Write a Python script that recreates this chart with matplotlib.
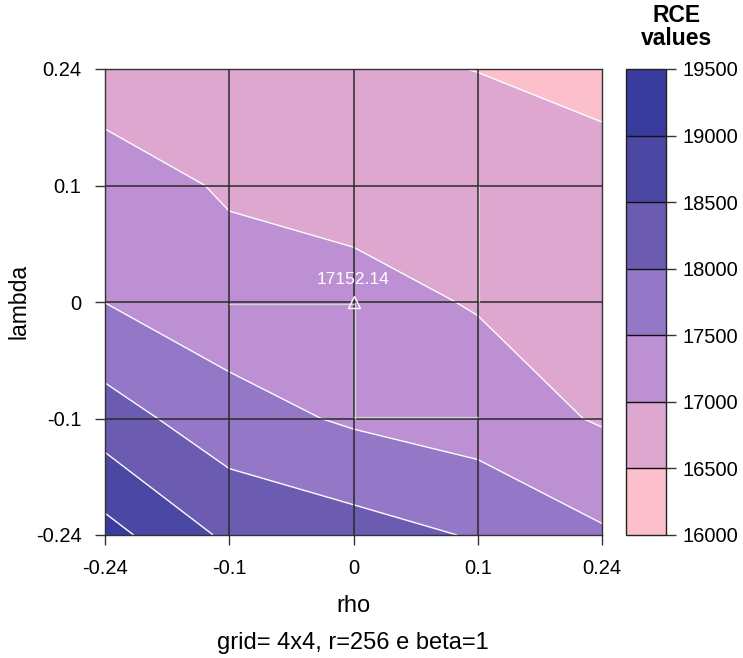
import numpy as np
import matplotlib
matplotlib.use("Agg")
import matplotlib.pyplot as plt
import matplotlib.transforms as mtransforms

plt.rcParams['font.family'] = ['Liberation Sans', 'DejaVu Sans']

# grid of parameters
rho_labels = ['-0.24', '-0.1', '0', '0.1', '0.24']
lambda_labels = ['-0.24', '-0.1', '0', '0.1', '0.24']

# RCE values, rows = lambda (bottom to top), columns = rho (left to right)
rce_lambda_m024 = [19180, 18399, 18200, 17960, 17560]
rce_lambda_m010 = [18222, 17699, 17430, 17250, 16955]
rce_lambda_000 = [17495, 17202, 17152.14, 16967, 16880]
rce_lambda_p010 = [17236, 16943, 16829, 16833, 16750]
rce_lambda_p024 = [16750, 16720, 16601, 16490, 16291]

levels = [16000, 16500, 17000, 17500, 18000, 18500, 19000, 19500]
band_colors = ['#FBC0CB', '#DDA7D0', '#BD8FD3', '#9477C6',
               '#6B5CB2', '#4B48A4', '#3A3B9F']

# best point found
best_rho_idx, best_lambda_idx = 2, 2
best_value = 17152.14

# search path segments (rho index, lambda index)
path_a = [(1, 2), (2, 2), (2, 1), (3, 1)]
path_b = [(3, 3), (3, 2)]

Z = np.array([rce_lambda_m024, rce_lambda_m010, rce_lambda_000,
              rce_lambda_p010, rce_lambda_p024])
xi = np.arange(len(rho_labels))
yi = np.arange(len(lambda_labels))
X, Y = np.meshgrid(xi, yi)

fig = plt.figure(figsize=(7.43, 6.58), dpi=100)
ax = fig.add_axes([105 / 743, 1 - 535 / 658, 497 / 743, 466 / 658])
cax = fig.add_axes([626 / 743, 1 - 535 / 658, 40 / 743, 466 / 658])

cf = ax.contourf(X, Y, Z, levels=levels, colors=band_colors)
ax.contour(X, Y, Z, levels=levels, colors='white', linewidths=1.0)

# reference grid
for v in xi[1:-1]:
    ax.axvline(v, color='#2a2a2a', lw=1.1, zorder=3)
for h in yi[1:-1]:
    ax.axhline(h, color='#2a2a2a', lw=1.1, zorder=3)

# search path, drawn just beside the grid lines
def offset(dx, dy):
    return ax.transData + mtransforms.ScaledTranslation(dx / 72, dy / 72, fig.dpi_scale_trans)

segs = list(zip(path_a[:-1], path_a[1:])) + list(zip(path_b[:-1], path_b[1:]))
for (p0, p1) in segs:
    if p0[1] == p1[1]:
        dy = -1.1 if p0[1] == 2 else 1.1
        tr = offset(0, dy)
    else:
        tr = offset(0.9, 0)
    ax.plot([p0[0], p1[0]], [p0[1], p1[1]], color='#d4d4d4', lw=0.9,
            transform=tr, zorder=4, solid_capstyle='butt')

ax.plot(best_rho_idx, best_lambda_idx, marker='^', ms=8, mfc='none',
        mec='white', mew=1.0, zorder=5, clip_on=False)
ax.annotate(f'{best_value:.2f}', (best_rho_idx, best_lambda_idx),
            xytext=(0, 16), textcoords='offset points', ha='center',
            va='center', color='white', fontsize=12.5, zorder=6)

ax.set_xlim(xi[0], xi[-1])
ax.set_ylim(yi[0], yi[-1])
ax.set_xticks(xi)
ax.set_xticklabels(rho_labels, fontsize=14.5)
ax.set_yticks(yi)
ax.set_yticklabels(lambda_labels, fontsize=14.5)
ax.tick_params(direction='out', length=7, width=1, color='#333333', pad=10)
for s in ax.spines.values():
    s.set_color('#333333')
    s.set_linewidth(1.0)
    s.set_zorder(6)

fig.text(353 / 743, 1 - 606 / 658, 'rho', ha='center', va='center', fontsize=17)
fig.text(353 / 743, 1 - 643 / 658, 'grid= 4x4, r=256 e beta=1',
         ha='center', va='center', fontsize=17)
fig.text(19 / 743, 1 - 301 / 658, 'lambda', ha='center', va='center',
         rotation=90, fontsize=16.5)

cb = fig.colorbar(cf, cax=cax, ticks=levels, drawedges=True)
cb.dividers.set_color('#111111')
cb.dividers.set_linewidth(1.0)
cb.outline.set_edgecolor('#222222')
cb.outline.set_linewidth(1.0)
cax.tick_params(direction='out', length=7, width=1, color='#333333',
                labelsize=14.5, pad=5)
cax.set_yticklabels([str(v) for v in levels])
fig.text(677 / 743, 1 - 27 / 658, 'RCE\nvalues', ha='center', va='center',
         fontsize=16.5, fontweight='bold', linespacing=1.0)

fig.savefig('out.png', dpi=100)
